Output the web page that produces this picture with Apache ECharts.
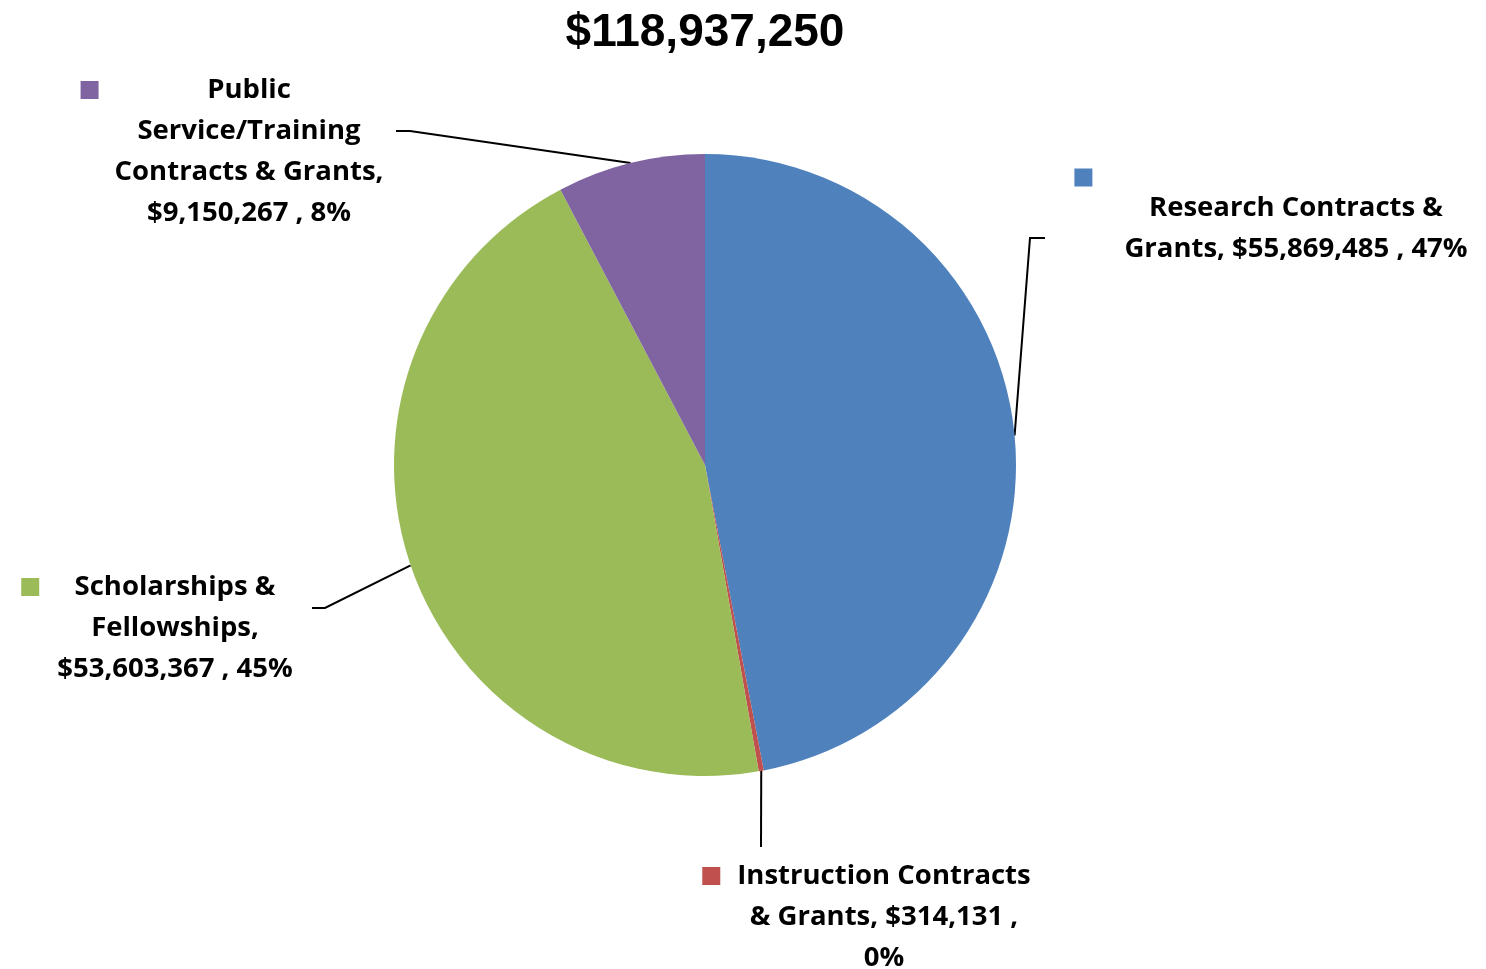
<!DOCTYPE html>
<html>
<head>
<meta charset="utf-8">
<script src="https://cdn.jsdelivr.net/npm/echarts@6/dist/echarts.min.js"></script>
<style>
  html, body { margin: 0; padding: 0; background: #ffffff; }
  #chart { width: 1486px; height: 969px; }
</style>
</head>
<body>
<div id="chart"></div>
<script>
// Funding sources, clockwise from 12 o'clock
const categories = [
  'Research Contracts & Grants',
  'Instruction Contracts & Grants',
  'Scholarships & Fellowships',
  'Public Service/Training Contracts & Grants'
];
const amounts = [55869485, 314131, 53603367, 9150267];
const sliceColors = ['#4F81BD', '#C0504D', '#9BBB59', '#8064A2'];

// How each label wraps; {v} = dollar amount, {p} = percent of total
const labelTemplates = [
  ['Research Contracts &', 'Grants, {v} , {p}'],
  ['Instruction Contracts', '& Grants, {v} ,', '{p}'],
  ['Scholarships &', 'Fellowships,', '{v} , {p}'],
  ['Public', 'Service/Training', 'Contracts & Grants,', '{v} , {p}']
];

// Label placement: centre x / top y of the text block, gap after the colour key,
// whether the key sits on its own row, and the bends of the leader line.
const labelPlacement = [
  { cx: 1296, top: 167,   gap: 32, keyRow: true,  bends: [[1030, 238], [1045, 238]] },
  { cx: 884,  top: 855.5, gap: 17, keyRow: false, bends: [[761, 847], [761, 847]] },
  { cx: 175,  top: 566.5, gap: 18, keyRow: false, bends: [[325, 608], [312, 608]] },
  { cx: 249,  top: 69.5,  gap: 16, keyRow: false, bends: [[410, 131], [396, 131]] }
];

const KEY = 18;
const KEY_ROW_H = 21;
const LINE_H = 41;
const total = amounts.reduce((a, b) => a + b, 0);
const money = v => '$' + v.toLocaleString('en-US');

function buildLabel(i) {
  const v = amounts[i];
  const pct = Math.round(v / total * 100) + '%';
  const lines = labelTemplates[i].map(s => s.replace('{v}', money(v)).replace('{p}', pct));
  const out = [];
  if (labelPlacement[i].keyRow) {
    out.push('{kr' + i + '|}{r' + i + '|}');
    lines.forEach(s => out.push('{l' + i + '|}{t|' + s + '}{r' + i + '|}'));
  } else {
    lines.forEach((s, j) => {
      const left = j === 0 ? '{k' + i + '|}{g' + i + '|}' : '{l' + i + '|}';
      out.push(left + '{t|' + s + '}{r' + i + '|}');
    });
  }
  return out.join('\n');
}

const rich = {
  t: {
    fontFamily: 'Open Sans',
    fontWeight: 'bold',
    fontSize: 27.5,
    color: '#000000',
    lineHeight: LINE_H,
    align: 'center'
  }
};
labelPlacement.forEach((p, i) => {
  rich['k' + i] = { width: KEY, height: KEY, lineHeight: KEY, backgroundColor: sliceColors[i], align: 'left' };
  rich['kr' + i] = { width: KEY, height: KEY, lineHeight: KEY_ROW_H, backgroundColor: sliceColors[i], align: 'left' };
  rich['g' + i] = { width: p.gap, height: KEY, lineHeight: KEY, align: 'left' };
  rich['l' + i] = { width: KEY + p.gap, height: KEY, lineHeight: KEY, align: 'left' };
  rich['r' + i] = { width: KEY + p.gap, height: KEY, lineHeight: KEY, align: 'right' };
});

const chart = echarts.init(document.getElementById('chart'), null, { renderer: 'canvas' });

chart.setOption({
  backgroundColor: '#ffffff',
  animation: false,
  title: {
    text: money(total),
    left: 700,
    top: 5,
    textAlign: 'center',
    textStyle: {
      fontFamily: 'Liberation Sans',
      fontWeight: 'bold',
      fontSize: 46,
      color: '#000000'
    }
  },
  series: [{
    type: 'pie',
    center: [705, 465],
    radius: 311,
    startAngle: 90,
    clockwise: true,
    avoidLabelOverlap: false,
    itemStyle: { borderWidth: 0 },
    emphasis: { disabled: true },
    data: categories.map((name, i) => ({
      name: name,
      value: amounts[i],
      itemStyle: { color: sliceColors[i] }
    })),
    label: {
      show: true,
      position: 'outside',
      formatter: p => buildLabel(p.dataIndex),
      rich: rich
    },
    labelLine: {
      show: true,
      lineStyle: { color: '#000000', width: 2 }
    },
    labelLayout: function (params) {
      const p = labelPlacement[params.dataIndex];
      const start = params.labelLinePoints[0];
      return {
        x: p.cx,
        y: p.top,
        align: 'center',
        verticalAlign: 'top',
        labelLinePoints: [start, p.bends[0], p.bends[1]]
      };
    }
  }]
});
</script>
</body>
</html>
